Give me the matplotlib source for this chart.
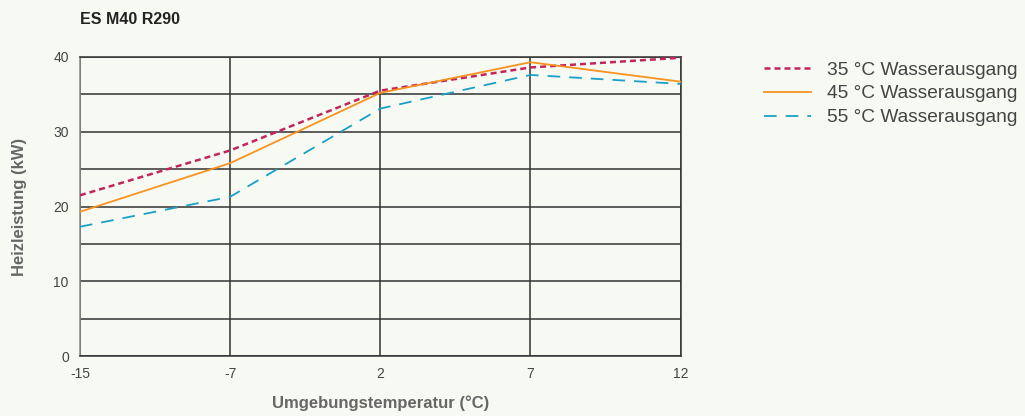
import matplotlib.pyplot as plt

plt.rcParams['font.family'] = ['Liberation Sans', 'DejaVu Sans']

# data
temps = ['-15', '-7', '2', '7', '12']
w35 = [21.5, 27.5, 35.5, 38.6, 39.9]
w45 = [19.3, 25.8, 35.2, 39.3, 36.7]
w55 = [17.3, 21.3, 33.1, 37.6, 36.4]
labels = ['35 °C Wasserausgang', '45 °C Wasserausgang', '55 °C Wasserausgang']

bg = '#f7f9f3'
fig = plt.figure(figsize=(10.25, 4.16), dpi=100, facecolor=bg)
ax = fig.add_axes([0.078, 0.144, 0.586, 0.719], facecolor=bg)

x = list(range(len(temps)))
ax.plot(x, w35, color='#c2255c', lw=1.8, dashes=(2.4, 1.6), label=labels[0], zorder=3)
ax.plot(x, w45, color='#f7931e', lw=1.3, label=labels[1], zorder=3)
ax.plot(x, w55, color='#1aa0c8', lw=1.3, dashes=(7, 5), label=labels[2], zorder=3)

ax.set_xlim(0, len(temps) - 1)
ax.set_ylim(0, 40)
ax.set_xticks(x)
ax.set_xticklabels(temps)
ax.set_yticks(range(0, 41, 10))
ax.set_yticks(range(0, 41, 5), minor=True)
ax.grid(True, which='both', color='#333333', lw=1.1, zorder=1)
ax.tick_params(which='both', length=0, labelsize=10, labelcolor='#444444', pad=8)
for s in ax.spines.values():
    s.set_color('#333333')
    s.set_linewidth(1.1)
ax.spines['left'].set_color('#888888')

ax.set_xlabel('Umgebungstemperatur (°C)', fontsize=12, fontweight='bold', color='#666666', labelpad=10)
ax.set_ylabel('Heizleistung (kW)', fontsize=12, fontweight='bold', color='#666666', labelpad=19)
fig.text(0.078, 0.953, 'ES M40 R290', fontsize=11.5, fontweight='bold', color='#222222', va='center')

fig.legend(loc='upper left', bbox_to_anchor=(0.738, 0.871), frameon=False, fontsize=13.8,
           handlelength=2.45, handletextpad=0.83, labelspacing=0.33, labelcolor='#444444',
           borderaxespad=0)

fig.savefig('out.png', dpi=100, facecolor=bg)
